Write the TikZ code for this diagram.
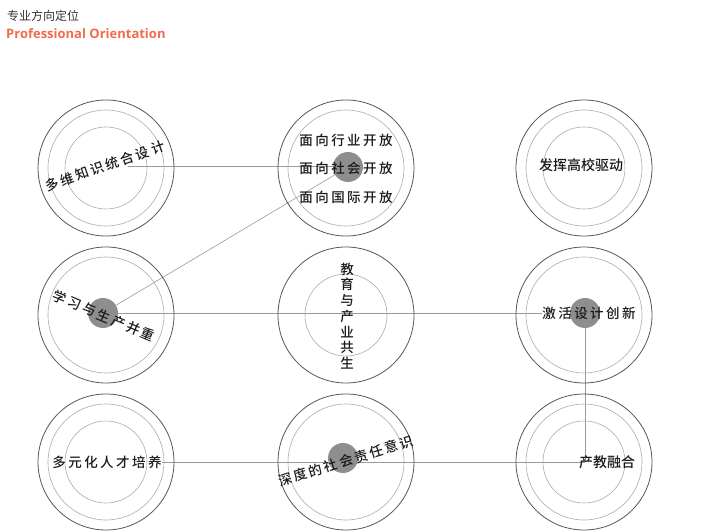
\documentclass[tikz,border=0pt]{standalone}
\usepackage{fontspec}
\setmainfont{Noto Sans CJK SC}
\newfontfamily\cjk{Noto Sans CJK SC Medium}
\newfontfamily\cjksp[LetterSpace=18]{Noto Sans CJK SC Medium}
\newfontfamily\cjkl{Noto Sans CJK SC}
\newfontfamily\titlefont{Open Sans}
\definecolor{outerc}{HTML}{555555}
\definecolor{innerc}{HTML}{ABABAB}
\definecolor{linec}{HTML}{9A9A9A}
\definecolor{dotc}{HTML}{8E8E8E}
\definecolor{orangec}{HTML}{F26B4A}
\definecolor{textc}{HTML}{1A1A1A}
\pgfdeclarelayer{bg}
\pgfsetlayers{bg,main}
\tikzset{
  ring/.style={circle, draw=outerc, line width=0.8pt, minimum size=136pt, inner sep=0pt},
  midring/.style={circle, draw=innerc, line width=0.6pt, minimum size=116pt, inner sep=0pt},
  inring/.style={circle, draw=innerc, line width=0.6pt, minimum size=82pt, inner sep=0pt},
  dot/.style={circle, fill=dotc, minimum size=30pt, inner sep=0pt},
  conn/.style={draw=linec, line width=0.6pt},
  lbl/.style={text=textc, inner sep=0pt, font=\cjksp\fontsize{13.5}{15}\selectfont},
  lblp/.style={text=textc, inner sep=0pt, font=\cjk\fontsize{14}{15}\selectfont},
}
\begin{document}
\begin{tikzpicture}[x=1pt,y=-1pt]
\useasboundingbox (0,0) rectangle (724,532);
% header
\node[anchor=west, inner sep=0pt, text=black!80, font=\cjkl\fontsize{12}{14}\selectfont] (h1) at (7,16) {专业方向定位};
\node[anchor=west, inner sep=0pt, text=orangec, font=\titlefont\bfseries\fontsize{13}{15}\selectfont] (h2) at (6,34) {Professional Orientation};
% rings
\node[ring] (c1) at (106,168) {};
\node[midring] (m1) at (106,168) {};
\node[inring] (i1) at (106,168) {};
\node[ring] (c2) at (346,168) {};
\node[midring] (m2) at (346,168) {};
\node[ring] (c3) at (584,168) {};
\node[midring] (m3) at (584,168) {};
\node[inring] (i3) at (584,168) {};
\node[ring] (c4) at (106,315) {};
\node[midring] (m4) at (106,315) {};
\node[ring] (c5) at (346,315) {};
\node[inring] (i5) at (346,315) {};
\node[ring] (c6) at (584,315) {};
\node[midring] (m6) at (584,315) {};
\node[ring] (c7) at (106,462) {};
\node[midring] (m7) at (106,462) {};
\node[inring] (i7) at (106,462) {};
\node[ring] (c8) at (346,462) {};
\node[midring] (m8) at (346,462) {};
\node[ring] (c9) at (584,462) {};
\node[midring] (m9) at (584,462) {};
\node[inring] (i9) at (584,462) {};
% dots
\node[dot] (g2) at (348,167) {};
\node[dot] (g4) at (103,313) {};
\node[dot] (g6) at (585,313) {};
\node[dot] (g8) at (343,458) {};
% labels
\node[lbl, rotate=19] (t1) at (105,166) {多维知识统合设计};
\node[lbl] (t2a) at (346,140) {面向行业开放};
\node[lbl] (t2b) at (346,168) {面向社会开放};
\node[lbl] (t2c) at (346,197) {面向国际开放};
\node[lblp] (t3) at (581,165) {发挥高校驱动};
\node[lbl, rotate=-23] (t4) at (104,316) {学习与生产并重};
\node[text=textc, inner sep=0pt, align=center, font=\cjk\fontsize{13.5}{15.7}\selectfont] (t5) at (347,316) {教\\育\\与\\产\\业\\共\\生};
\node[lbl] (t6) at (589,313) {激活设计创新};
\node[lbl] (t7) at (107,462) {多元化人才培养};
\node[lbl, rotate=17] (t8) at (346,461) {深度的社会责任意识};
\node[lblp] (t9) at (607,462) {产教融合};
\coordinate (s1) at (128,166);
\coordinate (j9) at (g6 |- c9.center);
% connectors (behind)
\begin{pgfonlayer}{bg}
\draw[conn] (s1) -- (s1 -| g2.center);
\draw[conn] (g4.center) -- (g2.center);
\draw[conn] (g4.center) -- (t6.west);
\draw[conn] (g6.center) -- (j9);
\draw[conn] (t7.east) -- (j9);
\end{pgfonlayer}
\end{tikzpicture}
\end{document}
